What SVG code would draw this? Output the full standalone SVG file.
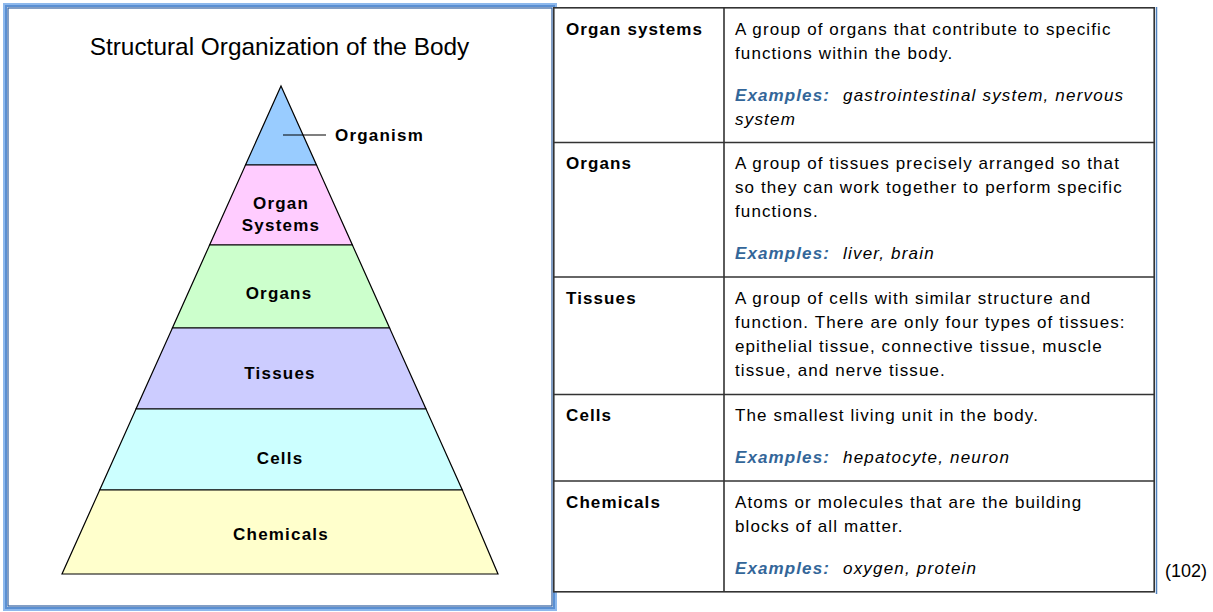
<svg xmlns="http://www.w3.org/2000/svg" width="1213" height="612" viewBox="0 0 1213 612">
<style>
.lvl{stroke:#000;stroke-width:1.2;stroke-linejoin:miter}
.plab{font-family:"Liberation Sans",Arial,sans-serif;font-weight:bold;font-size:17px;letter-spacing:1.2px;fill:#000;text-anchor:middle}
.title{font-family:"Liberation Sans",Arial,sans-serif;font-size:24.4px;fill:#000;text-anchor:middle}
.grid{stroke:#333;stroke-width:1.6;fill:none}
.lab{font-family:"Liberation Sans",Arial,sans-serif;font-weight:bold;font-size:17px;letter-spacing:1.1px;fill:#000}
.txt{font-family:"Liberation Sans",Arial,sans-serif;font-size:17px;letter-spacing:1.1px;fill:#000}
.ex{font-family:"Liberation Sans",Arial,sans-serif;font-weight:bold;font-style:italic;font-size:17px;letter-spacing:1.1px;fill:#336699}
.it{font-family:"Liberation Sans",Arial,sans-serif;font-style:italic;font-size:17px;letter-spacing:1.2px;fill:#000}
.ref{font-family:"Liberation Sans",Arial,sans-serif;font-size:18px;fill:#000}
</style>
<rect width="1213" height="612" fill="#fff"/>
<g id="frame">
<rect x="4" y="4" width="552" height="606" fill="#fff" stroke="#8db8ec" stroke-width="2"/>
<rect x="6" y="6" width="548" height="602" fill="none" stroke="#5a8fd2" stroke-width="2"/>
<rect x="8" y="8" width="544" height="598" fill="none" stroke="#2f5e9e" stroke-width="1.2"/>
</g>
<text class="title" x="279.5" y="55">Structural Organization of the Body</text>
<g id="organism"><polygon class="lvl" fill="#99ccff" points="281,86 316.5,165 245.5,165"/></g>
<g id="organ-systems"><polygon class="lvl" fill="#ffccff" points="245.5,165 316.5,165 352.4,245 209.6,245"/>
<text class="plab" x="281" y="209">Organ</text><text class="plab" x="281" y="231">Systems</text></g>
<g id="organs"><polygon class="lvl" fill="#ccffcc" points="209.6,245 352.4,245 389.6,328 172.4,328"/>
<text class="plab" x="279" y="299">Organs</text></g>
<g id="tissues"><polygon class="lvl" fill="#ccccff" points="172.4,328 389.6,328 426,409 136,409"/>
<text class="plab" x="280" y="379">Tissues</text></g>
<g id="cells"><polygon class="lvl" fill="#ccffff" points="136,409 426,409 462.3,490 99.7,490"/>
<text class="plab" x="280" y="464">Cells</text></g>
<g id="chemicals"><polygon class="lvl" fill="#ffffcc" points="99.7,490 462.3,490 498,574 62,574"/>
<text class="plab" x="281" y="540">Chemicals</text></g>
<g id="connectors"><line x1="283" y1="135" x2="326" y2="135" stroke="#000" stroke-width="1.2"/></g>
<g id="organism-label"><text class="plab" x="335" y="141" style="text-anchor:start">Organism</text></g>
<g id="table">
<rect x="553" y="7" width="602" height="585" fill="#fff"/>
<line x1="1156.5" y1="7" x2="1156.5" y2="594" stroke="#4f81bd" stroke-width="1.5"/>
<rect class="grid" x="553.8" y="7.8" width="600.4" height="584"/>
<line class="grid" x1="724" y1="7" x2="724" y2="592"/>
<line class="grid" x1="553" y1="142.5" x2="1155" y2="142.5"/>
<line class="grid" x1="553" y1="277" x2="1155" y2="277"/>
<line class="grid" x1="553" y1="394.5" x2="1155" y2="394.5"/>
<line class="grid" x1="553" y1="481" x2="1155" y2="481"/>
</g>
<g id="row-organ-systems">
<text class="lab" x="566" y="35">Organ systems</text>
<text class="txt" x="735" y="35">A group of organs that contribute to specific</text>
<text class="txt" x="735" y="59">functions within the body.</text>
<text class="ex" x="735" y="101">Examples:</text><text class="it" x="843" y="101">gastrointestinal system,  nervous</text>
<text class="it" x="735" y="125">system</text>
</g>
<g id="row-organs">
<text class="lab" x="566" y="169">Organs</text>
<text class="txt" x="735" y="169">A group of tissues precisely arranged so that</text>
<text class="txt" x="735" y="193">so they can work together to perform specific</text>
<text class="txt" x="735" y="217">functions.</text>
<text class="ex" x="735" y="259">Examples:</text><text class="it" x="843" y="259">liver, brain</text>
</g>
<g id="row-tissues">
<text class="lab" x="566" y="304">Tissues</text>
<text class="txt" x="735" y="304">A group of cells with similar structure and</text>
<text class="txt" x="735" y="328">function. There are only four types of tissues:</text>
<text class="txt" x="735" y="352">epithelial tissue, connective tissue, muscle</text>
<text class="txt" x="735" y="376">tissue, and nerve tissue.</text>
</g>
<g id="row-cells">
<text class="lab" x="566" y="421">Cells</text>
<text class="txt" x="735" y="421">The smallest living unit in the body.</text>
<text class="ex" x="735" y="463">Examples:</text><text class="it" x="843" y="463">hepatocyte, neuron</text>
</g>
<g id="row-chemicals">
<text class="lab" x="566" y="508">Chemicals</text>
<text class="txt" x="735" y="508">Atoms or molecules that are the building</text>
<text class="txt" x="735" y="532">blocks of all matter.</text>
<text class="ex" x="735" y="574">Examples:</text><text class="it" x="843" y="574">oxygen, protein</text>
</g>
<text class="ref" x="1165" y="577">(102)</text>
</svg>
